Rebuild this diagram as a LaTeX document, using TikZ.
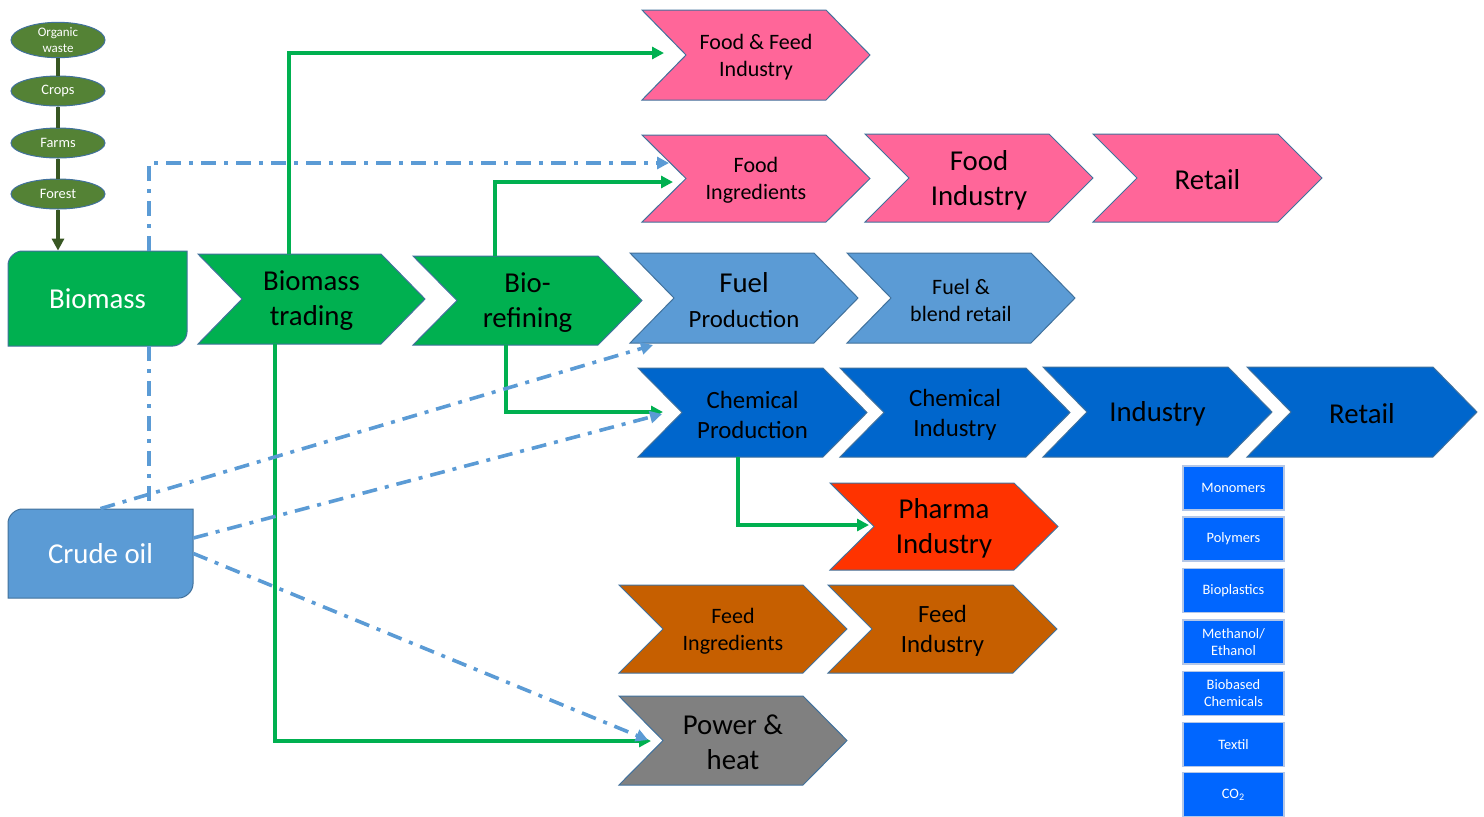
\documentclass[tikz,border=0pt]{standalone}
\usepackage{fontspec}
\setmainfont{Carlito}
\usetikzlibrary{arrows.meta,shapes.geometric}

\definecolor{edgec}{HTML}{41719C}
\definecolor{pinkc}{HTML}{FF6699}
\definecolor{greenc}{HTML}{00B050}
\definecolor{fuelc}{HTML}{5B9BD5}
\definecolor{chemc}{HTML}{0066CC}
\definecolor{pharmac}{HTML}{FF3300}
\definecolor{feedc}{HTML}{C65F00}
\definecolor{greyc}{HTML}{808080}
\definecolor{olivec}{HTML}{548235}
\definecolor{olivedark}{HTML}{385723}
\definecolor{brightblue}{HTML}{0066FF}
\definecolor{paleedge}{HTML}{B4C7E7}

% font sizes
\newcommand\fsL{\fontsize{14.4}{17.5}\selectfont}
\newcommand\fsM{\fontsize{12.4}{15}\selectfont}
\newcommand\fsS{\fontsize{11}{13.5}\selectfont}
\newcommand\fsT{\fontsize{7.2}{8.5}\selectfont}

\tikzset{
  chevedge/.style={draw=edgec, line width=0.5pt},
  chevbox/.style={inner sep=0pt, rectangle},
  chevlabel/.style={inner sep=0pt, align=center, text=black},
  grarrow/.style={draw=greenc, line width=1.6pt, -{Triangle[length=6pt,width=6pt]}},
  oilline/.style={draw=fuelc, line width=1.8pt, dash pattern=on 7.5pt off 4pt on 2pt off 4pt},
  oilarrow/.style={oilline, -{Triangle[length=6pt,width=6pt]}},
  source/.style={ellipse, draw=edgec, line width=0.5pt, fill=olivec, text=white,
    minimum width=47pt, minimum height=15pt, inner sep=0pt, align=center},
  srcline/.style={draw=olivedark, line width=2pt},
  smallbox/.style={rectangle, draw=paleedge, line width=0.6pt, fill=brightblue, text=white,
    minimum width=50.5pt, minimum height=22pt, inner sep=0pt, align=center, font=\fsT},
  boxlabel/.style={inner sep=0pt, align=center, text=white, font=\fsL},
}

% chevron: name, left x, tip x, top y, bottom y, fill, font, text
\newcommand\chevron[8]{%
  \filldraw[chevedge, fill=#6] (#2,#4) -- ({#3-44},#4) -- (#3,{(#4+#5)/2})
    -- ({#3-44},#5) -- (#2,#5) -- ({#2+44},{(#4+#5)/2}) -- cycle;
  \node[chevbox, minimum width={(#3-#2)*0.5pt}, minimum height={(#5-#4)*0.5pt}]
    (#1) at ({(#2+#3)/2},{(#4+#5)/2}) {};
  \node[chevlabel, font=#7] (#1-t) at ([yshift=-1pt]#1.center) {#8};
}

\begin{document}
\begin{tikzpicture}[x=0.5pt, y=-0.5pt]
\useasboundingbox (0,0) rectangle (1484,816);

% raw material sources
\node[source, font=\fontsize{6.5}{8}\selectfont] (ow) at (58,40) {Organic\\waste};
\node[source, font=\fsT] (crops) at (58,91) {\raisebox{-2pt}{Crops}};
\node[source, font=\fsT] (farms) at (58,143) {\raisebox{-2pt}{Farms}};
\node[source, font=\fsT] (forest) at (58,194) {\raisebox{-2pt}{Forest}};

% Biomass box (rounded top-left and bottom-right)
\filldraw[chevedge, fill=greenc] (8,346) -- (8,265) .. controls (8,257.3) and (15.7,251) .. (22,251)
  -- (187,251) -- (187,332) .. controls (187,339.7) and (179.3,346) .. (173,346) -- cycle;
\node[boxlabel, minimum width=89.5pt, minimum height=47.5pt] (bm) at (97.5,298.5) {Biomass};

% Crude oil box
\filldraw[chevedge, fill=fuelc] (8,598) -- (8,523) .. controls (8,515.3) and (15.7,509) .. (22,509)
  -- (193,509) -- (193,584) .. controls (193,591.7) and (185.3,598) .. (179,598) -- cycle;
\node[boxlabel, minimum width=92.5pt, minimum height=44.5pt] (cr) at (100.5,553.5) {Crude oil};

% value chain
\chevron{ffi}{642}{870}{10}{100}{pinkc}{\fsS}{Food \& Feed\\Industry}
\chevron{fing}{642}{870}{135}{222}{pinkc}{\fsS}{Food\\Ingredients}
\chevron{find}{865}{1093}{134}{222}{pinkc}{\fsL}{Food\\Industry}
\chevron{fret}{1093}{1322}{134}{222}{pinkc}{\fsL}{Retail}
\chevron{bt}{198}{425}{254}{344}{greenc}{\fsL}{Biomass\\trading}
\chevron{br}{413}{642}{256}{345}{greenc}{\fsL}{Bio-\\refining}
\chevron{fp}{630}{858}{253}{343}{fuelc}{\fsL}{Fuel\\{\fsM Production}}
\chevron{fbr}{847}{1075}{253}{343}{fuelc}{\fsS}{Fuel \&\\blend retail}
\chevron{cp}{638}{867}{368}{457}{chemc}{\fsM}{Chemical\\Production}
\chevron{ci}{840}{1070}{368}{457}{chemc}{\fsM}{Chemical\\Industry}
\chevron{ind}{1043}{1272}{367}{457}{chemc}{\fsL}{Industry}
\chevron{cret}{1247}{1477}{367}{457}{chemc}{\fsL}{Retail}
\chevron{ph}{830}{1058}{483}{570}{pharmac}{\fsL}{Pharma\\Industry}
\chevron{fdi}{619}{847}{585}{673}{feedc}{\fsS}{Feed\\Ingredients}
\chevron{fdn}{828}{1057}{585}{673}{feedc}{\fsM}{Feed\\Industry}
\chevron{pw}{619}{847}{696}{785}{greyc}{\fsL}{Power \&\\heat}

% chemical products
\node[smallbox] (mono) at (1233.5,488) {Monomers};
\node[smallbox] (poly) at (1233.5,539) {Polymers};
\node[smallbox] (bpl) at (1233.5,590.5) {Bioplastics};
\node[smallbox] (meth) at (1233.5,642) {Methanol/\\Ethanol};
\node[smallbox] (bbc) at (1233.5,693.5) {Biobased\\Chemicals};
\node[smallbox] (tex) at (1233.5,744.5) {Textil};
\node[smallbox] (co2) at (1233.5,794.5) {CO\textsubscript{2}};

% source chain
\draw[srcline] (ow) -- (crops);
\draw[srcline] (crops) -- (farms);
\draw[srcline] (farms) -- (forest);
\draw[srcline, -{Triangle[length=6pt,width=6pt]}] (forest) -- (bm.north -| forest);

% biomass flows
\coordinate (g1) at (289,53);  \coordinate (ffi-a) at (664,53);
\coordinate (g2) at (495,182); \coordinate (fing-a) at (673,182);
\coordinate (g3) at (275,741); \coordinate (pw-a) at (651,741);
\coordinate (g4) at (506,412); \coordinate (cp-a) at (663,412);
\coordinate (g5) at (738,525); \coordinate (ph-a) at (869,525);
\draw[grarrow] (bt.north -| g1) |- (ffi-a);
\draw[grarrow] (br.north -| g2) |- (fing-a);
\draw[grarrow] (bt.south -| g3) |- (pw-a);
\draw[grarrow] (br.south -| g4) |- (cp-a);
\draw[grarrow] (cp.south -| g5) |- (ph-a);

% fossil flows
\coordinate (o1) at (149,163); \coordinate (fing-b) at (669,163);
\coordinate (fp-b) at (653,345);
\coordinate (cp-b) at (662,414);
\coordinate (pw-b) at (648,740);
\draw[oilarrow] (bm.north -| o1) |- (fing-b);
\draw[oilline] (bm.south -| o1) -- (cr.north -| o1);
\draw[oilarrow] (cr.north) -- (fp-b);
\draw[oilarrow] ([yshift=7.75pt]cr.east) -- (cp-b);
\draw[oilarrow] (cr.east) -- (pw-b);

\end{tikzpicture}
\end{document}
